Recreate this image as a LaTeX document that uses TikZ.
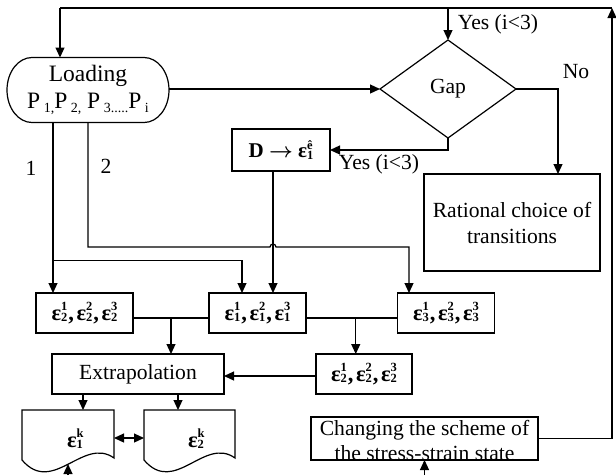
\documentclass[tikz,border=0pt]{standalone}
\usepackage{fontspec}
\setmainfont{Liberation Serif}
\usetikzlibrary{arrows.meta,shapes.geometric,calc}
\newcommand\eps[2]{ε\rlap{\raisebox{0.42em}{\fontsize{12.5}{12.5}\selectfont #2}}\raisebox{-0.08em}{\fontsize{12.5}{12.5}\selectfont #1}}
\newcommand\cm{\kern1pt,\kern2.5pt}
\newcommand\psub[1]{\raisebox{-0.15em}{\fontsize{14}{14}\selectfont #1}}
\newcommand\docdraw[1]{\draw (#1.north west) -- (#1.north east) -- (#1.south east) .. controls ($(#1.south east)+(-30.7,-22)$) and ($(#1.south west)+(30.7,38)$) .. ($(#1.south west)+(0,2)$) -- cycle;}
\begin{document}
\begin{tikzpicture}[x=1pt,y=-1pt, line width=1.2pt, >={Triangle[length=10pt,width=9pt]},
  box/.style={draw, rectangle, inner sep=0pt, outer sep=0pt, align=center},
  txt/.style={font=\fontsize{21.6}{26}\selectfont},
  epsbox/.style={box, minimum width=97pt, minimum height=40pt, font=\fontsize{22.5}{24}\selectfont\bfseries},
  ghost/.style={rectangle, inner sep=0pt, outer sep=0pt}]
\useasboundingbox (0,0) rectangle (616,475);

% nodes
\node[ghost, align=center, minimum width=162pt, minimum height=65pt, font=\fontsize{23.5}{27}\selectfont] (load) at (88,90) {Loading\\P\psub{ 1,}P\psub{ 2,} P\psub{ 3.....}P\psub{ i}};
\draw ([xshift=25pt]load.north west) -- ([xshift=-25pt]load.north east)
  arc[start angle=270, end angle=450, x radius=25, y radius=32.5]
  -- ([xshift=25pt]load.south west)
  arc[start angle=90, end angle=270, x radius=25, y radius=32.5];
\node[diamond, draw, txt, inner sep=0pt, outer sep=0pt, minimum width=136pt, minimum height=98pt] (gap) at (448,89) {Gap};
\node[box, minimum width=98pt, minimum height=42pt, font=\fontsize{21}{22}\selectfont\bfseries] (dbox) at (281,150) {D {\boldmath$\rightarrow$} \eps{1}{ê}};
\node[box, txt, minimum width=176pt, minimum height=97pt] (rat) at (512,222.5) {Rational choice of\\transitions};
\node[epsbox] (e1) at (84.5,313) {\eps{2}{1}\cm\eps{2}{2}\cm\eps{2}{3}};
\node[epsbox] (e2) at (257.5,313) {\eps{1}{1}\cm\eps{1}{2}\cm\eps{1}{3}};
\node[epsbox] (e3) at (446,313) {\eps{3}{1}\cm\eps{3}{2}\cm\eps{3}{3}};
\node[epsbox, minimum width=96pt] (e4) at (364,374) {\eps{2}{1}\cm\eps{2}{2}\cm\eps{2}{3}};
\node[box, txt, minimum width=172pt, minimum height=40pt] (extrap) at (138,374) {Extrapolation};
\node[ghost, minimum width=92pt, minimum height=48pt] (docL) at (68,434) {};
\node[ghost, minimum width=91pt, minimum height=48pt] (docR) at (189.5,434) {};
\docdraw{docL}
\docdraw{docR}
\node[ghost, font=\fontsize{22.5}{24}\selectfont\bfseries] (tL) at (75,439) {\eps{1}{k}};
\node[ghost, font=\fontsize{22.5}{24}\selectfont\bfseries] (tR) at (196,439) {\eps{2}{k}};
\node[box, minimum width=227pt, minimum height=43pt] (chg) at (424.5,438.5) {};
\node[ghost, align=center, font=\fontsize{21.6}{25}\selectfont] (chgtxt) at (424.5,440) {Changing the scheme of\\the stress-strain state};

% labels
\node[txt] (yes1) at (498,24) {Yes (i<3)};
\node[txt] (yes2) at (379,164) {Yes (i<3)};
\node[txt] (no) at (576,72) {No};
\node[txt] (one) at (31,168) {1};
\node[txt] (two) at (106,166) {2};

% coordinates
\coordinate (tl) at (60,8);
\coordinate (tr) at (612,8);
\coordinate (b1) at (68,475);
\coordinate (b1t) at (68,464);
\coordinate (b2) at (424.5,475);

% connectors
\draw[->] (chg.east) -| (tr);
\draw (tr) -- (tl);
\draw[->] (tl) -- (tl |- load.north);
\draw[->] (gap.north |- tl) -- (gap.north);
\draw[->] (load.east |- gap.west) -- (gap.west);
\draw[->] (gap.east) -| ([xshift=46pt]rat.north);
\draw[->] (gap.south) |- (dbox.east);
\draw[->] ([xshift=-8pt]dbox.south) -- ([xshift=-8pt]dbox.south |- e2.north);
\draw[->] ([xshift=-35pt]load.south) -- ([xshift=-35pt]load.south |- e1.north);
\draw[->] ($([xshift=-35pt]load.south)+(0,138)$) -| ([xshift=-15.5pt]e2.north);
\draw[->] (load.south) |- (270,247) arc[start angle=180, end angle=360, radius=3] -| ([xshift=-37pt]e3.north);
\draw ([yshift=-5pt]e1.east) -- ([yshift=-5pt]e2.west);
\draw ([yshift=-5pt]e2.east) -- ([yshift=-5pt]e3.west);
\coordinate (m1) at ($(e1.east)!0.5!(e2.west)+(0,5)$);
\coordinate (m2) at ($(e2.east)!0.5!(e3.west)+(4,5)$);
\draw[->] (m1) -- (m1 |- extrap.north);
\draw[->] (m2) -- (m2 |- e4.north);
\draw[->] ([yshift=-2pt]e4.west) -- ([yshift=-2pt]e4.west -| extrap.east);
\draw[->] ([xshift=-55pt]extrap.south) -- ([xshift=-55pt]extrap.south |- docL.north);
\draw[->] ([xshift=40pt]extrap.south) -- ([xshift=40pt]extrap.south |- docR.north);
\draw[<->] ([yshift=-4pt]docL.east) -- ([yshift=-4pt]docR.west);
\draw[->] (b1) -- (b1t);
\draw[->] (b2) -- (chg.south);
\end{tikzpicture}
\end{document}
